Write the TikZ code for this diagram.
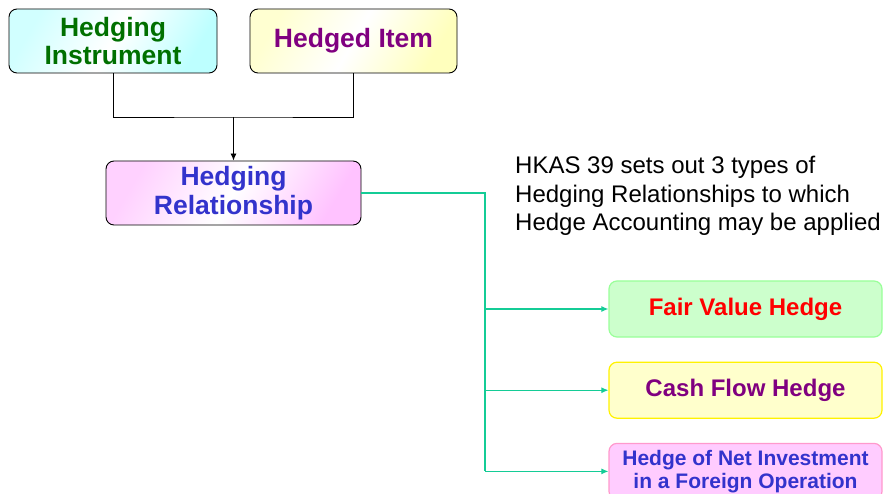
\documentclass[tikz,border=0pt]{standalone}
\usepackage{fontspec}
\setmainfont{Liberation Sans}
\usetikzlibrary{arrows.meta, positioning}
\definecolor{instgreen}{RGB}{0,112,0}
\definecolor{itempurple}{RGB}{128,0,128}
\definecolor{relblue}{RGB}{51,51,204}
\definecolor{flowgreen}{RGB}{20,204,150}

\begin{document}
\begin{tikzpicture}[x=1pt, y=-1pt, node distance=24pt, >={Latex[length=7pt,width=6pt]},
  topbox/.style={draw, rounded corners=8pt, line width=0.9pt, align=center, minimum height=64pt,
    font=\fontsize{26.5}{28.5}\selectfont\bfseries},
  typebox/.style={draw, rounded corners=8pt, line width=1.2pt, align=center, minimum width=273pt,
    minimum height=56pt, font=\fontsize{24}{28}\selectfont\bfseries},
  flow/.style={draw=flowgreen, line width=1.1pt}]
\useasboundingbox (0,0) rectangle (883,494);
\clip (0,0) rectangle (883,494);

% the two parts and the relationship
\node[topbox, minimum width=208pt, shading=axis, left color=cyan!18, right color=cyan!26, middle color=white, shading angle=60, text=instgreen] (inst) at (113,41) {Hedging\\Instrument};
\node[topbox, minimum width=207pt, shading=axis, left color=yellow!18, right color=yellow!26, middle color=white, shading angle=60, text=itempurple] (item) at (353.5,41) {Hedged Item};
\node[topbox, minimum width=255pt, shading=axis, left color=magenta!18, right color=magenta!24, middle color=white, shading angle=60, text=relblue] (rel) at (233.5,193) {Hedging\\Relationship};

\coordinate (join) at (233.5,117);
\draw[line width=0.9pt] (inst.south) |- (join) -| (item.south);
\draw[->, line width=0.9pt] (join) -- (rel.north);

\node[anchor=north west, inner sep=0pt, align=left, font=\fontsize{24}{28.5}\selectfont] (note) at (515,156)
  {HKAS 39 sets out 3 types of\\Hedging Relationships to which\\Hedge Accounting may be applied};

% the three types
\node[typebox, draw={rgb,255:red,153;green,255;blue,153}, fill={rgb,255:red,204;green,255;blue,204}, text=red] (fv) at (745.5,309) {Fair Value Hedge};
\node[typebox, draw=yellow, fill={rgb,255:red,255;green,255;blue,204}, text=itempurple, below=of fv] (cf) {Cash Flow Hedge};
\node[typebox, draw={rgb,255:red,255;green,153;blue,204}, fill={rgb,255:red,255;green,204;blue,255}, text=relblue,
  font=\fontsize{21}{23}\selectfont\bfseries, below=of cf] (ni) {Hedge of Net Investment\\in a Foreign Operation};

\coordinate (trunk) at (485,193);
\draw[flow] (rel.east) -- (trunk) -- (trunk |- ni.west);
\foreach \t in {fv,cf,ni}
  \draw[flow, ->, flowgreen] (trunk |- \t.west) -- (\t.west);
\end{tikzpicture}
\end{document}
